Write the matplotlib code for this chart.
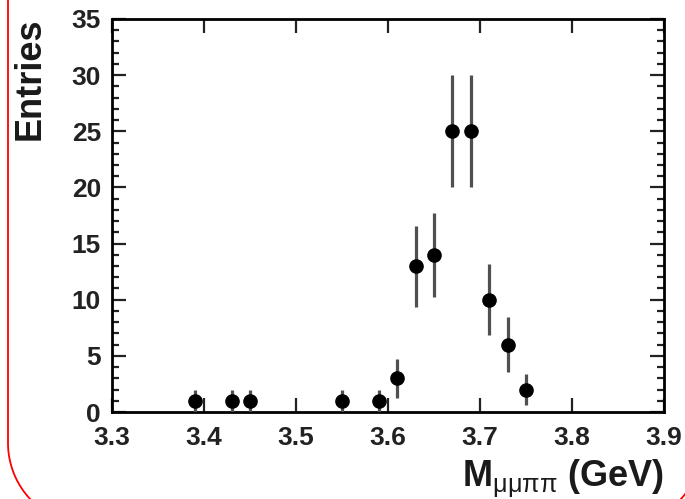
import numpy as np
import matplotlib
matplotlib.use("Agg")
import matplotlib.pyplot as plt
from matplotlib.ticker import MultipleLocator

# invariant mass bin centres (GeV) and counts
mass = [3.39, 3.43, 3.45, 3.55, 3.59, 3.61, 3.63, 3.65, 3.67, 3.69, 3.71, 3.73, 3.75]
entries = [1, 1, 1, 1, 1, 3, 13, 14, 25, 25, 10, 6, 2]
errors = np.sqrt(entries)

x_ticks = [3.3, 3.4, 3.5, 3.6, 3.7, 3.8, 3.9]
y_ticks = [0, 5, 10, 15, 20, 25, 30, 35]

plt.rcParams["font.family"] = ["Liberation Sans", "DejaVu Sans"]
plt.rcParams["mathtext.fontset"] = "custom"
plt.rcParams["mathtext.rm"] = "Liberation Sans"
plt.rcParams["mathtext.bf"] = "Liberation Sans:bold"

W, H = 685, 499
fig = plt.figure(figsize=(W / 100, H / 100), dpi=100)
fig.patch.set_facecolor("white")

# slide frame behind the plot (pixel units, y down)
bg = fig.add_axes([0, 0, 1, 1], zorder=-5)
bg.set_xlim(0, W)
bg.set_ylim(H, 0)
bg.axis("off")
r = 82
t = np.linspace(np.pi, np.pi / 2, 60)
fx = np.concatenate([[8, 8], 8 + r + r * np.cos(t)])
fy = np.concatenate([[-5, 443], 443 + r * np.sin(t)])
bg.plot(fx, fy, color="#ff0000", lw=1.3, clip_on=False)
t2 = np.linspace(np.pi / 2, 0, 60)
bg.plot(703 - r + r * np.cos(t2), 443 + r * np.sin(t2), color="#ff0000", lw=1.3,
        clip_on=False)

ax = fig.add_axes([112 / W, 1 - 412 / H, (664 - 112) / W, (412 - 19) / H])
ax.errorbar(
    mass, entries, yerr=errors, fmt="o", color="black", ms=9.5,
    ecolor="#505050", elinewidth=2.3, capsize=0, zorder=3,
)

ax.set_xlim(3.3, 3.9)
ax.set_ylim(0, 35)
ax.set_xticks(x_ticks)
ax.set_yticks(y_ticks)
ax.set_xticklabels([f"{v:.1f}" for v in x_ticks])
ax.set_yticklabels([str(v) for v in y_ticks])
ax.yaxis.set_minor_locator(MultipleLocator(1))

for s in ax.spines.values():
    s.set_linewidth(2.0)
ax.tick_params(axis="both", which="both", direction="in", top=True, right=True,
               labelsize=19, width=1.6, colors="#222222", labelcolor="#222222")
ax.tick_params(axis="both", which="major", length=10)
ax.tick_params(axis="y", which="major", pad=8)
ax.tick_params(axis="x", which="major", pad=10)
ax.tick_params(axis="y", which="minor", length=5)
for lab in ax.get_xticklabels() + ax.get_yticklabels():
    lab.set_fontweight("bold")

fig.text(30 / W, 1 - 18 / H, "Entries", rotation=90, ha="center", va="top",
         fontsize=26, fontweight="bold", color="#1a1a1a")
fig.text(664 / W, 1 - 487 / H, r"M$_{\mathrm{μμππ}}$ (GeV)", ha="right",
         va="baseline", fontsize=26, fontweight="bold", color="#1a1a1a")

fig.savefig("out.png", dpi=100, facecolor="white")
